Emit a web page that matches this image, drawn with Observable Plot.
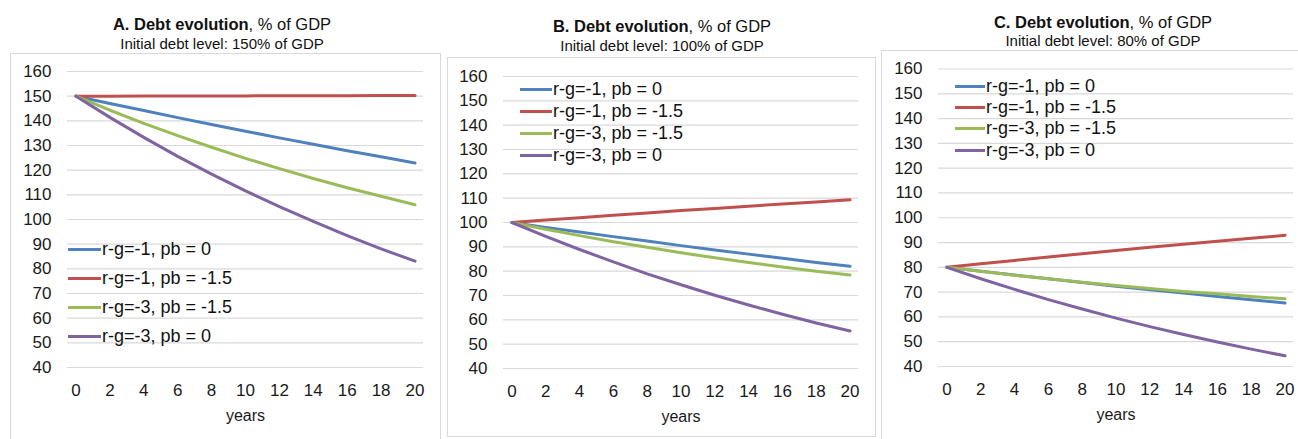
<!DOCTYPE html>
<html>
<head>
<meta charset="utf-8">
<script src="https://cdn.jsdelivr.net/npm/d3@7"></script>
<script src="https://cdn.jsdelivr.net/npm/@observablehq/plot@0.6"></script>
<style>
  html, body { margin: 0; padding: 0; background: #fff; }
  body { width: 1298px; height: 439px; position: relative; overflow: hidden; font-family: "Liberation Sans", Arial, Helvetica, sans-serif; color: #111; }
  .title { position: absolute; font-size: 16.5px; white-space: nowrap; transform: translateX(-50%); line-height: 1; }
  .sub { position: absolute; font-size: 15px; white-space: nowrap; transform: translateX(-50%); line-height: 1; }
  .box { position: absolute; border: 1px solid #d9d9d9; box-sizing: border-box; pointer-events: none; }
  .chart { position: absolute; }
  .legend { position: absolute; font-size: 18px; line-height: 1; }
  .row { position: absolute; left: 0; white-space: nowrap; display: flex; align-items: center; transform: translateY(-50%); }
  .sw { display: inline-block; height: 3px; margin-right: 1px; }
</style>
</head>
<body>
<script>
// ---- data ----
const years = [0, 2, 4, 6, 8, 10, 12, 14, 16, 18, 20];
const seriesNames = ["r-g=-1, pb = 0", "r-g=-1, pb = -1.5", "r-g=-3, pb = -1.5", "r-g=-3, pb = 0"];
const yTicks = [40, 50, 60, 70, 80, 90, 100, 110, 120, 130, 140, 150, 160];
const xTicks = [0, 2, 4, 6, 8, 10, 12, 14, 16, 18, 20];

// Panel A: initial debt 150% of GDP
const debtA1 = [150, 147.0, 144.2, 141.3, 138.5, 135.8, 133.1, 130.5, 127.9, 125.4, 122.9];
const debtA2 = [150, 150.0, 150.1, 150.1, 150.1, 150.1, 150.2, 150.2, 150.2, 150.3, 150.3];
const debtA3 = [150, 144.3, 139.0, 134.0, 129.3, 124.8, 120.6, 116.6, 112.9, 109.4, 106.0];
const debtA4 = [150, 141.4, 133.3, 125.6, 118.4, 111.6, 105.2, 99.2, 93.5, 88.1, 83.1];
// Panel B: initial debt 100% of GDP
const debtB1 = [100, 98.0, 96.1, 94.2, 92.4, 90.5, 88.7, 87.0, 85.3, 83.6, 82.0];
const debtB2 = [100, 101.0, 102.0, 103.0, 103.9, 104.9, 105.8, 106.7, 107.6, 108.4, 109.3];
const debtB3 = [100, 97.2, 94.6, 92.1, 89.8, 87.6, 85.5, 83.6, 81.7, 80.0, 78.4];
const debtB4 = [100, 94.3, 88.9, 83.8, 78.9, 74.4, 70.1, 66.1, 62.3, 58.7, 55.4];
// Panel C: initial debt 80% of GDP
const debtC1 = [80, 78.4, 76.9, 75.4, 73.9, 72.4, 71.0, 69.6, 68.2, 66.9, 65.6];
const debtC2 = [80, 81.4, 82.8, 84.2, 85.5, 86.8, 88.1, 89.3, 90.5, 91.7, 92.9];
const debtC3 = [80, 78.4, 76.8, 75.4, 74.0, 72.7, 71.5, 70.3, 69.3, 68.2, 67.3];
const debtC4 = [80, 75.4, 71.1, 67.0, 63.2, 59.5, 56.1, 52.9, 49.9, 47.0, 44.3];

const titleBold = ["A. Debt evolution", "B. Debt evolution", "C. Debt evolution"];
const titleRest = ", % of GDP";
const subtitles = ["Initial debt level: 150% of GDP", "Initial debt level: 100% of GDP", "Initial debt level: 80% of GDP"];

// ---- styles ----
const colors = ["#4F81BD", "#C0504D", "#9BBB59", "#8064A2"];

function toRows(seriesList) {
  const rows = [];
  seriesList.forEach((vals, i) => vals.forEach((v, j) => rows.push({year: years[j], debt: v, series: seriesNames[i]})));
  return rows;
}

const panels = [
  {series: [debtA1, debtA2, debtA3, debtA4], box: {l: 10, t: 53, w: 431, h: 400},
   svg: {l: 10, t: 53, w: 431, h: 386, ml: 57, mr: 18, mt: 18, mb: 72},
   title: {x: 222, t: 16, st: 36},
   legend: {l: 68, swW: 33, rows: [249, 278, 307, 336]}},
  {series: [debtB1, debtB2, debtB3, debtB4], box: {l: 447, t: 57, w: 429, h: 380},
   svg: {l: 447, t: 57, w: 429, h: 380, ml: 56, mr: 18, mt: 19, mb: 69},
   title: {x: 662, t: 18, st: 38},
   legend: {l: 520, swW: 32, rows: [89, 111, 133, 155]}},
  {series: [debtC1, debtC2, debtC3, debtC4], box: {l: 881, t: 50, w: 430, h: 400},
   svg: {l: 881, t: 50, w: 417, h: 389, ml: 57, mr: 5, mt: 18.5, mb: 73},
   title: {x: 1103, t: 14, st: 33},
   legend: {l: 955, swW: 30, rows: [86, 107, 128, 150]}}
];

panels.forEach((p, k) => {
  const t = document.createElement("div");
  t.className = "title";
  t.style.left = p.title.x + "px"; t.style.top = p.title.t + "px";
  const b = document.createElement("b"); b.textContent = titleBold[k];
  t.appendChild(b); t.appendChild(document.createTextNode(titleRest));
  document.body.appendChild(t);

  const s = document.createElement("div");
  s.className = "sub";
  s.style.left = p.title.x + "px"; s.style.top = p.title.st + "px";
  s.textContent = subtitles[k];
  document.body.appendChild(s);

  const chart = Plot.plot({
    width: p.svg.w, height: p.svg.h,
    marginLeft: p.svg.ml, marginRight: p.svg.mr, marginTop: p.svg.mt, marginBottom: p.svg.mb,
    style: {fontFamily: "'Liberation Sans', Arial, Helvetica, sans-serif", fontSize: "17px", color: "#1a1a1a", background: "transparent", overflow: "visible"},
    x: {domain: [-0.5, 20.5]},
    y: {domain: [40, 160]},
    color: {domain: seriesNames, range: colors},
    marks: [
      Plot.ruleY(yTicks, {stroke: "#d9d9d9", strokeWidth: 1.2}),
      Plot.axisY({ticks: yTicks, tickSize: 0, tickPadding: 16, label: null, fill: "#1a1a1a"}),
      Plot.axisX({ticks: xTicks, tickSize: 0, tickPadding: 16.5, label: null, fill: "#1a1a1a"}),
      Plot.text(["years"], {frameAnchor: "bottom", dy: 53, fontSize: 16, fill: "#1a1a1a", text: d => d}),
      Plot.line(toRows(p.series), {x: "year", y: "debt", stroke: "series", z: "series", strokeWidth: 3, strokeLinecap: "round", strokeLinejoin: "round"})
    ]
  });
  chart.classList.add("chart");
  chart.style.left = p.svg.l + "px"; chart.style.top = p.svg.t + "px";
  document.body.appendChild(chart);

  const box = document.createElement("div");
  box.className = "box";
  box.style.left = p.box.l + "px"; box.style.top = p.box.t + "px";
  box.style.width = p.box.w + "px"; box.style.height = p.box.h + "px";
  document.body.appendChild(box);

  const lg = document.createElement("div");
  lg.className = "legend";
  lg.style.left = p.legend.l + "px"; lg.style.top = "0px";
  seriesNames.forEach((name, i) => {
    const r = document.createElement("div");
    r.className = "row";
    r.style.top = p.legend.rows[i] + "px";
    const sw = document.createElement("span");
    sw.className = "sw"; sw.style.width = p.legend.swW + "px"; sw.style.background = colors[i];
    const tx = document.createElement("span"); tx.textContent = name;
    r.appendChild(sw); r.appendChild(tx);
    lg.appendChild(r);
  });
  document.body.appendChild(lg);
});
</script>
</body>
</html>
